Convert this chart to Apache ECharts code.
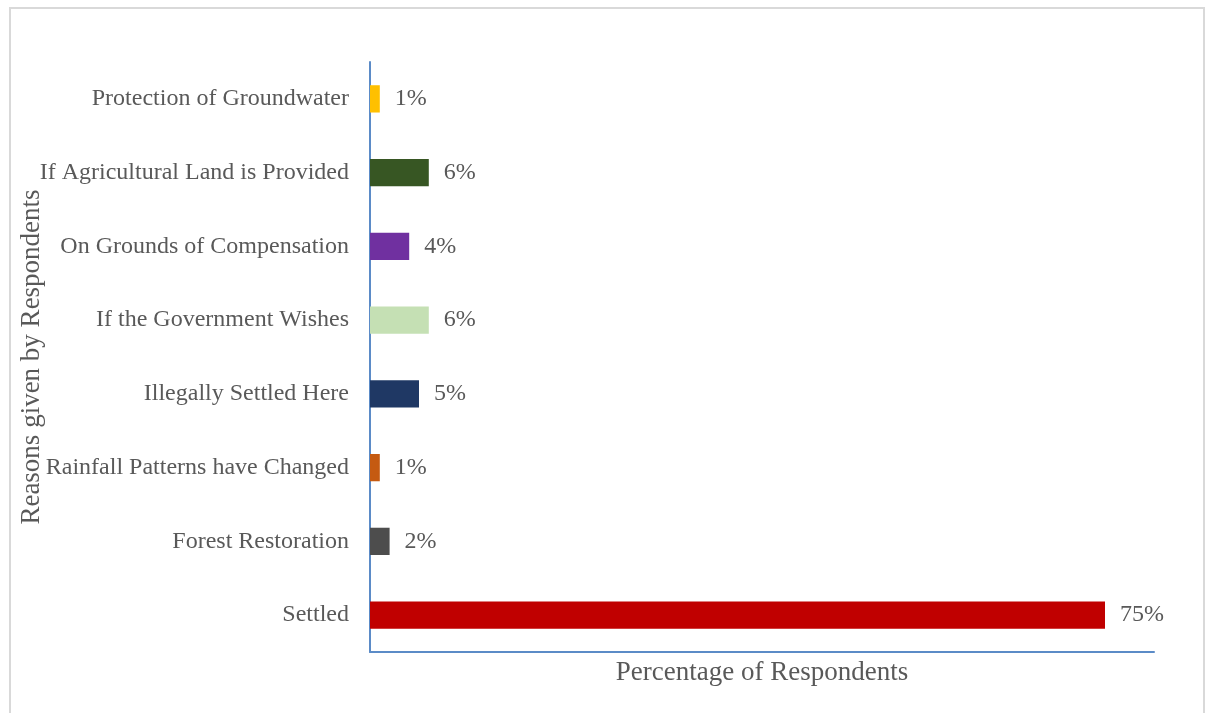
<!DOCTYPE html>
<html>
<head>
<meta charset="utf-8">
<script src="https://cdn.jsdelivr.net/npm/echarts@6/dist/echarts.min.js"></script>
<style>
  html, body { margin: 0; padding: 0; background: #fff; }
  #frame { position: absolute; left: 9px; top: 7px; width: 1196px; height: 720px; border: 2px solid #d9d9d9; box-sizing: border-box; }
  #chart { position: absolute; left: 0; top: 0; width: 1214px; height: 713px; }
</style>
</head>
<body>
<div id="frame"></div>
<div id="chart"></div>
<script>
// Reasons, listed bottom to top as drawn on the category axis
const reasons = [
  'Settled',
  'Forest Restoration',
  'Rainfall Patterns have Changed',
  'Illegally Settled Here',
  'If the Government Wishes',
  'On Grounds of Compensation',
  'If Agricultural Land is Provided',
  'Protection of Groundwater'
];
const percentages = [75, 2, 1, 5, 6, 4, 6, 1];
const barColors = ['#C00000', '#4D4D4D', '#C55A11', '#1F3864', '#C5E0B4', '#7030A0', '#375623', '#FFC000'];

const serif = '"Liberation Serif", "Times New Roman", serif';
const textColor = '#595959';
const axisBlue = '#5B8BC7';

const chart = echarts.init(document.getElementById('chart'));
chart.setOption({
  animation: false,
  grid: { left: 370, right: 60, top: 62, bottom: 61, containLabel: false, outerBoundsMode: 'none' },
  xAxis: {
    type: 'value',
    min: 0,
    max: 80,
    name: 'Percentage of Respondents',
    nameLocation: 'middle',
    nameGap: 7,
    nameMoveOverlap: false,
    nameTextStyle: { fontFamily: serif, fontSize: 27, color: textColor, verticalAlign: 'top' },
    axisLine: { show: true, lineStyle: { color: axisBlue, width: 2 } },
    axisTick: { show: false },
    axisLabel: { show: false },
    splitLine: { show: false }
  },
  yAxis: {
    type: 'category',
    data: reasons,
    name: 'Reasons given by Respondents',
    nameLocation: 'middle',
    nameGap: 325,
    nameRotate: 90,
    nameMoveOverlap: false,
    nameTextStyle: { fontFamily: serif, fontSize: 27, color: textColor },
    axisLine: { show: true, lineStyle: { color: axisBlue, width: 2 } },
    axisTick: { show: false },
    axisLabel: { fontFamily: serif, fontSize: 24, color: textColor, margin: 21 }
  },
  series: [{
    type: 'bar',
    data: percentages.map((v, i) => ({ value: v, itemStyle: { color: barColors[i] } })),
    barCategoryGap: '63%',
    label: {
      show: true,
      position: 'right',
      distance: 15,
      formatter: p => p.value + '%',
      fontFamily: serif,
      fontSize: 24,
      color: textColor
    }
  }]
});
</script>
</body>
</html>
